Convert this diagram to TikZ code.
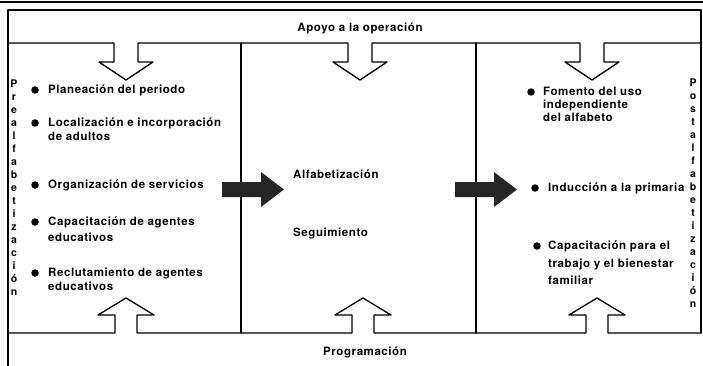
\documentclass[tikz,border=0pt]{standalone}
\usepackage{fontspec}
\setmainfont[LetterSpace=5]{TeX Gyre Heros}

\tikzset{
  linea/.style={line width=1.3pt,color=black},
  texto/.style={font=\bfseries\fontsize{11.5}{14}\selectfont,inner sep=0pt,align=left,anchor=north west},
  letras/.style={font=\bfseries\fontsize{10.5}{13}\selectfont,inner sep=0pt,align=center,anchor=north},
  punto/.style={circle,fill=black,inner sep=0pt,minimum size=7.5pt}
}

\begin{document}
\begin{tikzpicture}[line cap=round,line join=round,x=1pt,y=-1pt]
\useasboundingbox (0,0) rectangle (703,366);
% marco
\draw[linea] (0,2) -- (703,2);
\draw[linea] (8,366) -- (8,10) -- (701,10) -- (701,333);
% flechas de apoyo
\draw[linea] (8,43) \foreach \c in {126,360,592}
  {-- ({\c-12},43) -- ({\c-12},62) -- ({\c-27},62) -- (\c,80) -- ({\c+27},62) -- ({\c+12},62) -- ({\c+12},43)} -- (701,43);
% flechas de programacion
\draw[linea] (8,333) \foreach \c in {126,363,597}
  {-- ({\c-11},333) -- ({\c-11},315) -- ({\c-28},315) -- (\c,298) -- ({\c+28},315) -- ({\c+11},315) -- ({\c+11},333)} -- (701,333);
\foreach \x in {241,476}
\draw[linea] (\x,43) -- (\x,333);
% flechas rellenas
\foreach \s in {222,455}
\fill[black!85] (\s,182) -- ({\s+39},182) -- ({\s+39},172) -- ({\s+62},189.5) -- ({\s+39},207) -- ({\s+39},197) -- (\s,197) -- cycle;
% textos
\node[texto,anchor=north] (apoyo) at (360,23) {Apoyo a la operación};
\node[texto,anchor=north] (progr) at (365,347) {Programación};
\node[letras] (prealf) at (14,79.2) {P\\r\\e\\a\\l\\f\\a\\b\\e\\t\\i\\z\\a\\c\\i\\ó\\n};
\node[letras] (postalf) at (693,78.2) {P\\o\\s\\t\\a\\l\\f\\a\\b\\e\\t\\i\\z\\a\\c\\i\\ó\\n};
% prealfabetizacion
\node[punto] (p1) at (35,90) {};
\node[texto] (plan) at (48,84.8) {Planeación del periodo};
\node[punto] (p2) at (35,123) {};
\node[texto] (local) at (48,117.8) {Localización e incorporación\\de adultos};
\node[punto] (p3) at (35,185) {};
\node[texto] (organ) at (48,179.8) {Organización de servicios};
\node[punto] (p4) at (35,222) {};
\node[texto] (capag) at (48,216.8) {Capacitación de agentes\\[2pt]educativos};
\node[punto] (p5) at (35,273) {};
\node[texto] (reclu) at (48,267.8) {Reclutamiento de agentes\\educativos};
% alfabetizacion
\node[texto] (alfa) at (293,169.8) {Alfabetización};
\node[texto] (segui) at (293,227.8) {Seguimiento};
% postalfabetizacion
\node[punto] (q1) at (531,92) {};
\node[texto] (fomen) at (543,86.8) {Fomento del uso\\[-1pt]independiente\\[-1pt]del alfabeto};
\node[punto] (q2) at (535,188) {};
\node[texto] (induc) at (548,182.8) {Inducción a la primaria};
\node[punto] (q3) at (537,246) {};
\node[texto] (captr) at (548,240.8) {Capacitación para el\\[3.5pt]trabajo y el bienestar\\[3pt]familiar};
\end{tikzpicture}
\end{document}
